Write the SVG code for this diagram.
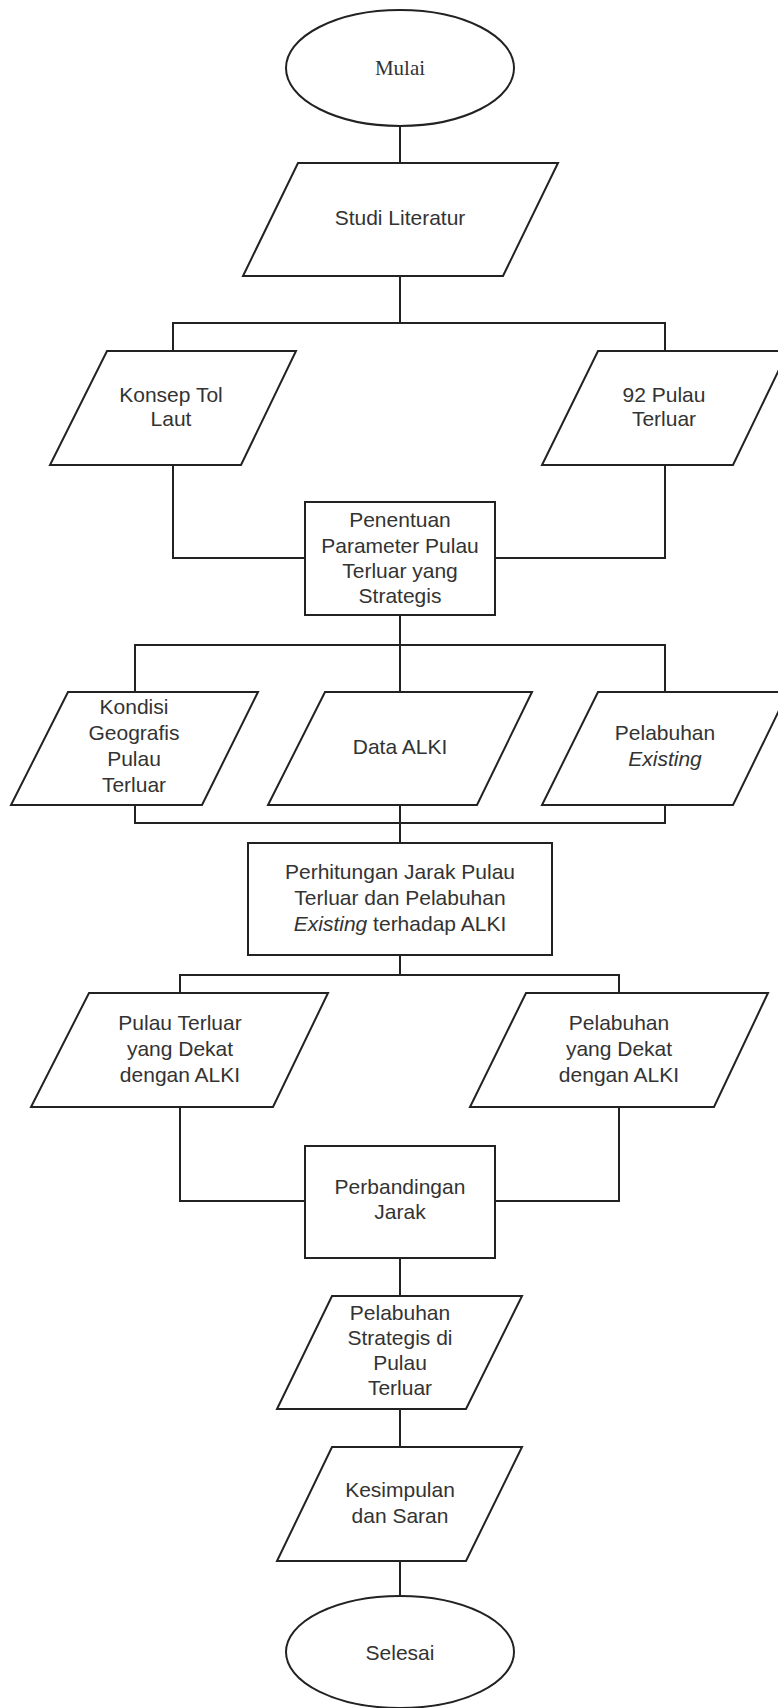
<svg xmlns="http://www.w3.org/2000/svg" width="778" height="1708" viewBox="0 0 778 1708">
<style>
.s{fill:#fff;stroke:#222;stroke-width:2}
.c{fill:none;stroke:#222;stroke-width:2}
text{font-family:"Liberation Sans",Arial,sans-serif;font-size:21px;fill:#333;text-anchor:middle}
.serif{font-family:"Liberation Serif","Times New Roman",serif}
.i{font-style:italic}
</style>
<rect width="778" height="1708" fill="#fff"/>
<g id="connectors">
<path class="c" d="M400 126V163M400 276V323M173 351V323H665V351M173 465V558H305M665 465V558H495M400 615V645M135 692V645H665V692M400 645V692M135 805V823H665V805M400 805V843M400 955V975M180 993V975H619V993M180 1107V1201H305M619 1107V1201H495M400 1258V1296M400 1409V1447M400 1561V1596"/>
</g>
<g id="mulai"><ellipse class="s" cx="400" cy="68" rx="114" ry="58"/><text class="serif" x="400" y="75">Mulai</text></g>
<g id="studi"><polygon class="s" points="298,163 558,163 503,276 243,276"/><text x="400" y="225">Studi Literatur</text></g>
<g id="konsep"><polygon class="s" points="107,351 296,351 241,465 50,465"/><text x="171" y="402">Konsep Tol</text><text x="171" y="426">Laut</text></g>
<g id="pulau92"><polygon class="s" points="598,351 788,351 733,465 542,465"/><text x="664" y="402">92 Pulau</text><text x="664" y="426">Terluar</text></g>
<g id="penentuan"><rect class="s" x="305" y="502" width="190" height="113"/><text x="400" y="527">Penentuan</text><text x="400" y="553">Parameter Pulau</text><text x="400" y="578">Terluar yang</text><text x="400" y="603">Strategis</text></g>
<g id="kondisi"><polygon class="s" points="68,692 258,692 202,805 11,805"/><text x="134" y="714">Kondisi</text><text x="134" y="740">Geografis</text><text x="134" y="766">Pulau</text><text x="134" y="792">Terluar</text></g>
<g id="alki"><polygon class="s" points="325,692 532,692 477,805 268,805"/><text x="400" y="754">Data ALKI</text></g>
<g id="pelabuhan-existing"><polygon class="s" points="598,692 788,692 733,805 542,805"/><text x="665" y="740">Pelabuhan</text><text class="i" x="665" y="766">Existing</text></g>
<g id="perhitungan"><rect class="s" x="248" y="843" width="304" height="112"/><text x="400" y="879">Perhitungan Jarak Pulau</text><text x="400" y="905">Terluar dan Pelabuhan</text><text x="400" y="931"><tspan class="i">Existing</tspan> terhadap ALKI</text></g>
<g id="pulau-dekat"><polygon class="s" points="89,993 328,993 273,1107 31,1107"/><text x="180" y="1030">Pulau Terluar</text><text x="180" y="1056">yang Dekat</text><text x="180" y="1082">dengan ALKI</text></g>
<g id="pelabuhan-dekat"><polygon class="s" points="526,993 768,993 714,1107 470,1107"/><text x="619" y="1030">Pelabuhan</text><text x="619" y="1056">yang Dekat</text><text x="619" y="1082">dengan ALKI</text></g>
<g id="perbandingan"><rect class="s" x="305" y="1146" width="190" height="112"/><text x="400" y="1194">Perbandingan</text><text x="400" y="1219">Jarak</text></g>
<g id="strategis"><polygon class="s" points="332,1296 522,1296 466,1409 277,1409"/><text x="400" y="1320">Pelabuhan</text><text x="400" y="1345">Strategis di</text><text x="400" y="1370">Pulau</text><text x="400" y="1395">Terluar</text></g>
<g id="kesimpulan"><polygon class="s" points="332,1447 522,1447 466,1561 277,1561"/><text x="400" y="1497">Kesimpulan</text><text x="400" y="1523">dan Saran</text></g>
<g id="selesai"><ellipse class="s" cx="400" cy="1652" rx="114" ry="56"/><text x="400" y="1660">Selesai</text></g>
</svg>
